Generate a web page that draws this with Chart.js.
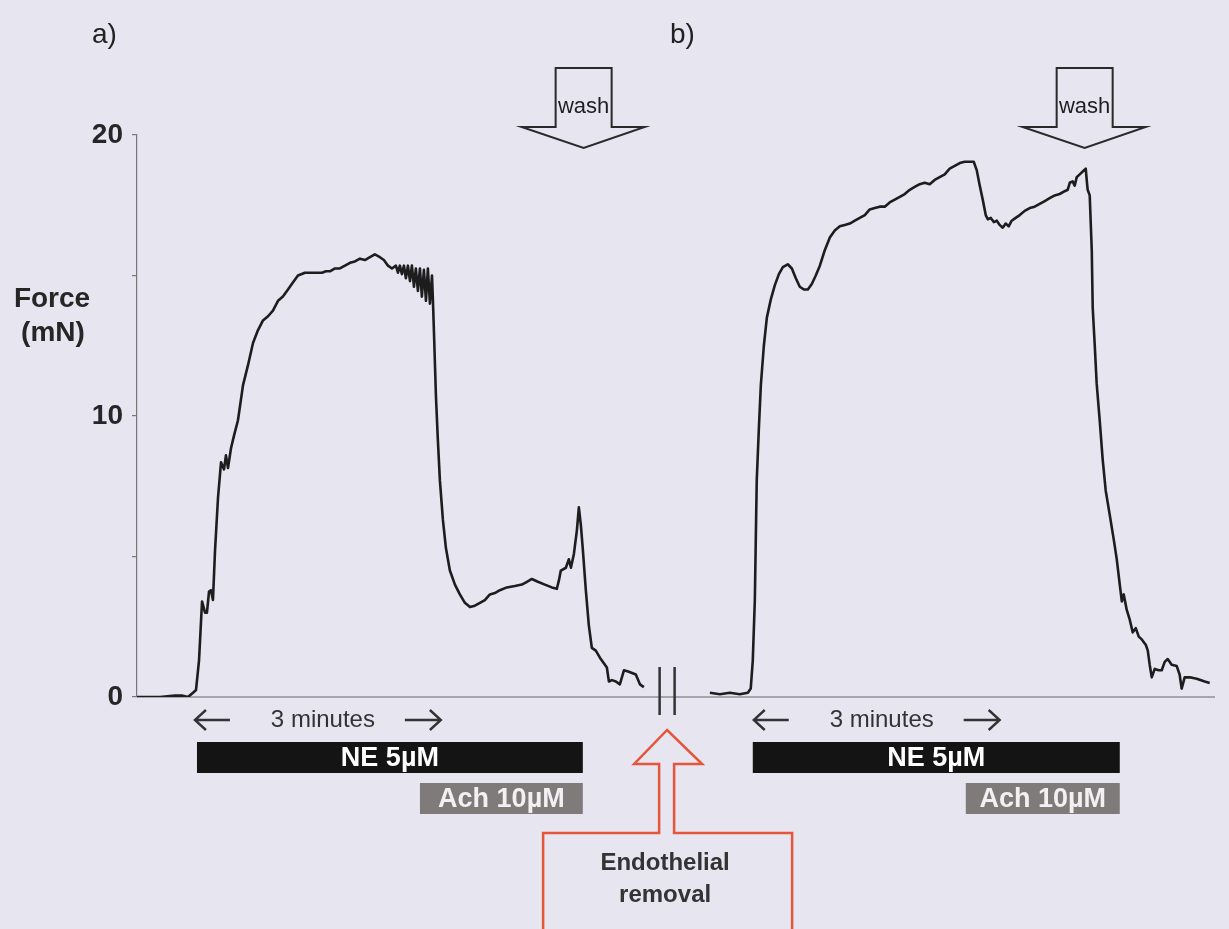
<!DOCTYPE html>
<html>
<head>
<meta charset="utf-8">
<script src="https://cdn.jsdelivr.net/npm/chart.js@4.4.0/dist/chart.umd.min.js"></script>
<style>
    html, body { margin: 0; padding: 0; background: #e6e5f0; }
    #wrap { width: 1229px; height: 929px; position: relative; }
</style>
</head>
<body>
<div id="wrap"><canvas id="trace"></canvas></div>
<script>
// Isometric force traces (mN) against recorder time (s)
// a) intact vessel, b) after endothelial removal
const timeA = [
    0, 16.8, 27.8, 32.9, 37.3, 41, 43.2, 45.4, 47.6, 49.8,
    51.2, 52.7, 54.1, 55.6, 57.1, 59.3, 61.5, 63.7, 65.1, 66.6,
    68.8, 71, 73.9, 77.6, 81.2, 84.9, 88.5, 92.2, 95.9, 99.5,
    103.2, 106.8, 110.5, 114.1, 117.8, 122.9, 128, 132.4, 135.4, 138.3,
    141.2, 144.9, 148.5, 152.2, 155.9, 159.5, 163.2, 166.8, 170.5, 174.1,
    177.8, 180.7, 183.7, 186.6,
    189.5, 191, 192.4, 193.9, 195.4, 196.8, 198.3, 199.8, 201.2, 202.7,
    204.1, 205.6, 207.1, 208.5, 210, 211.5, 212.9, 214.4, 215.9, 216.6,
    217.3, 218.8, 220.2, 221.7, 223.9, 226.1, 229, 232.7, 236.3, 240,
    243.7, 247.3, 251, 254.6, 258.3, 261.9, 265.6, 270.7, 276.6, 281.7,
    285.4, 289, 293.4, 298.5, 303.6, 307.3, 308.8, 310.2, 313.9, 316.1,
    317.6, 319.8, 322, 323.4, 324.9, 326.3, 328.5, 330.7, 332.9, 335.8,
    338.8, 341.7, 343.9, 345.4, 347.6, 350.5, 353.4, 356.4, 360, 365.1,
    368.1, 371
];
const forceA = [
    0, 0, 0.05, 0.05, 0, 0.15, 0.25, 1.3, 3.4, 3.0,
    3.0, 3.75, 3.8, 3.45, 5.2, 7.1, 8.35, 8.1, 8.6, 8.15,
    8.85, 9.3, 9.85, 11.1, 11.8, 12.6, 13.05, 13.4, 13.55, 13.75,
    14.1, 14.25, 14.5, 14.75, 15.0, 15.1, 15.1, 15.1, 15.1, 15.15,
    15.15, 15.25, 15.25, 15.35, 15.45, 15.5, 15.6, 15.55, 15.65, 15.75,
    15.65, 15.55, 15.35, 15.25,
    15.35, 15.1, 15.35, 15.05, 15.35, 14.9, 15.35, 14.8, 15.35, 14.6,
    15.25, 14.45, 15.25, 14.25, 15.2, 14.1, 15.25, 14.0, 15.0, 14.1,
    13.05, 10.7, 9.15, 7.7, 6.3, 5.3, 4.5, 4.0, 3.65, 3.35,
    3.2, 3.25, 3.35, 3.45, 3.65, 3.7, 3.8, 3.9, 3.95, 4.0,
    4.1, 4.2, 4.1, 4.0, 3.9, 3.85, 4.15, 4.5, 4.6, 4.9,
    4.6, 5.1, 5.95, 6.75, 6.1, 5.25, 3.8, 2.55, 1.75, 1.65,
    1.4, 1.2, 1.05, 0.55, 0.6, 0.55, 0.45, 0.95, 0.9, 0.8,
    0.45, 0.35
];
const timeB = [
    419.3, 426.6, 433.9, 441.2, 447.1, 449.2, 450.7, 452.2, 452.9, 453.6,
    455.1, 456.6, 458.8, 461, 463.9, 466.8, 469.8, 472.7, 476.3, 479.3,
    482.2, 485.1, 488.1, 491, 493.9, 496.8, 499.8, 503.4, 507.1, 510.7,
    514.4, 518, 521.7, 525.4, 529, 532.7, 536.3, 540, 543.6, 547.3,
    550.9, 554.6, 558.3, 561.9, 565.6, 569.2, 572.9, 576.5, 580.2, 583.8,
    587.5, 591.2, 594.8, 598.5, 602.2, 605.8, 609.5, 612.4, 614.6, 616.8,
    619, 621.2, 622.7, 624.9, 627.1, 629.3, 631.4, 633.6, 635.8, 638,
    640.2, 643.1, 646.1, 649.7, 653.4, 657, 660.7, 664.4, 668, 671.7,
    675.3, 679, 681.2, 682.7, 684.8, 686.3, 687.8, 690, 692.2, 694.4,
    695.1, 695.8, 697.3, 698.8, 699.5, 701, 702.4, 704.6, 706.8, 709,
    711.9, 714.9, 717.1, 719.3, 720.8, 722.2, 724.4, 726.6, 728.8, 731,
    733.2, 735.4, 738.4, 739.8, 741.2, 742.7, 744.9, 747.8, 750, 752.2,
    754.4, 757.3, 761, 763.1, 764.6, 766.8, 770.5, 775.6, 781.5, 785.1
];
const forceB = [
    0.15, 0.1, 0.15, 0.1, 0.15, 0.3, 1.3, 3.45, 5.6, 7.7,
    9.5, 11.1, 12.5, 13.5, 14.15, 14.65, 15.05, 15.3, 15.4, 15.25,
    14.9, 14.6, 14.5, 14.5, 14.7, 15.0, 15.35, 15.9, 16.35, 16.6,
    16.75, 16.8, 16.85, 16.95, 17.05, 17.15, 17.35, 17.4, 17.45, 17.45,
    17.6, 17.7, 17.8, 17.9, 18.05, 18.15, 18.25, 18.3, 18.25, 18.4,
    18.5, 18.6, 18.8, 18.9, 19.0, 19.05, 19.05, 19.05, 18.75, 18.2,
    17.7, 17.15, 17.0, 17.05, 16.9, 16.95, 16.8, 16.7, 16.85, 16.75,
    16.95, 17.05, 17.15, 17.3, 17.4, 17.45, 17.55, 17.65, 17.75, 17.85,
    17.9, 18.0, 18.05, 18.3, 18.35, 18.2, 18.5, 18.6, 18.7, 18.8,
    18.4, 18.05, 17.85, 15.9, 13.85, 12.5, 11.15, 9.85, 8.45, 7.35,
    6.5, 5.6, 4.9, 4.0, 3.4, 3.65, 3.1, 2.75, 2.3, 2.45,
    2.15, 2.05, 1.85, 1.65, 1.15, 0.7, 1.0, 0.95, 0.95, 1.25,
    1.35, 1.15, 1.1, 0.8, 0.3, 0.7, 0.7, 0.65, 0.55, 0.5
];

// y axis: ticks every 5 mN, labelled every 10
const forceMax = 20;
const forceStep = 5;
const timeMax = 789;

// drug applications and events (s), one entry per panel
const panelLabels = ['a)', 'b)'];
const neStart = [43.9, 450.7];
const neEnd = [326.3, 719.3];
const achStart = [207.1, 606.6];
const washAt = [326.9, 693.6];
const calStart = [42.4, 451.4];
const calLength = 180;      // 3 minutes
const breakAt = 388;

const FONT = '"Liberation Sans", Arial, Helvetica, sans-serif';

function arrowLine(ctx, x1, x2, y, tipLeft) {
    ctx.beginPath();
    ctx.moveTo(x1, y);
    ctx.lineTo(x2, y);
    const tip = tipLeft ? x1 : x2;
    const d = tipLeft ? 11 : -11;
    ctx.moveTo(tip + d, y - 10);
    ctx.lineTo(tip, y);
    ctx.lineTo(tip + d, y + 10);
    ctx.stroke();
}

function washArrow(ctx, cx) {
    ctx.beginPath();
    ctx.moveTo(cx - 28, 127);
    ctx.lineTo(cx - 28, 68);
    ctx.lineTo(cx + 28, 68);
    ctx.lineTo(cx + 28, 127);
    ctx.lineTo(cx + 61, 127);
    ctx.lineTo(cx, 148);
    ctx.lineTo(cx - 62, 127);
    ctx.closePath();
    ctx.fillStyle = '#e6e5f0';
    ctx.fill();
    ctx.strokeStyle = '#2a2a2a';
    ctx.lineWidth = 2;
    ctx.stroke();
    ctx.fillStyle = '#1e1e1e';
    ctx.font = `22px ${FONT}`;
    ctx.textAlign = 'center';
    ctx.textBaseline = 'alphabetic';
    ctx.fillText('wash', cx, 113);
}

const figurePlugin = {
    id: 'figure',
    beforeDraw(chart) {
        const ctx = chart.ctx;
        ctx.save();
        ctx.fillStyle = '#e6e5f0';
        ctx.fillRect(0, 0, chart.width, chart.height);
        ctx.restore();
    },
    beforeDatasetsDraw(chart) {
        const { ctx, chartArea, scales } = chart;
        const y0 = scales.y.getPixelForValue(0);
        ctx.save();
        ctx.strokeStyle = '#666';
        ctx.lineWidth = 1.2;
        ctx.beginPath();
        ctx.moveTo(chartArea.left, y0);
        ctx.lineTo(chartArea.right, y0);
        ctx.stroke();
        ctx.restore();
    },
    afterDraw(chart) {
        const { ctx, scales } = chart;
        const x = v => scales.x.getPixelForValue(v);
        ctx.save();

        // panel letters
        ctx.fillStyle = '#222';
        ctx.font = `28px ${FONT}`;
        ctx.textAlign = 'left';
        ctx.textBaseline = 'alphabetic';
        ctx.fillText(panelLabels[0], 92, 43);
        ctx.fillText(panelLabels[1], 670, 43);

        // y axis title
        ctx.fillStyle = '#262626';
        ctx.font = `bold 28px ${FONT}`;
        ctx.textAlign = 'center';
        ctx.fillText('Force', 52, 307);
        ctx.fillText('(mN)', 53, 341);

        for (let i = 0; i < 2; i++) {
            // 3 minute calibration
            const c0 = x(calStart[i]);
            const c1 = x(calStart[i] + calLength);
            ctx.strokeStyle = '#333';
            ctx.lineWidth = 2.4;
            arrowLine(ctx, c0, c0 + 35, 720, true);
            arrowLine(ctx, c1 - 36, c1, 720, false);
            ctx.fillStyle = '#333';
            ctx.font = `24px ${FONT}`;
            ctx.textAlign = 'center';
            ctx.textBaseline = 'middle';
            ctx.fillText('3 minutes', (c0 + c1) / 2 + 5, 720);

            // NE bar
            const n0 = x(neStart[i]);
            const n1 = x(neEnd[i]);
            ctx.fillStyle = '#141414';
            ctx.fillRect(n0, 742, n1 - n0, 31);
            ctx.fillStyle = '#ffffff';
            ctx.font = `bold 27px ${FONT}`;
            ctx.fillText('NE 5\u00b5M', (n0 + n1) / 2, 759);

            // Ach bar
            const a0 = x(achStart[i]);
            ctx.fillStyle = '#807b7b';
            ctx.fillRect(a0, 783, n1 - a0, 31);
            ctx.fillStyle = '#f2f0f2';
            ctx.fillText('Ach 10\u00b5M', (a0 + n1) / 2, 800);

            washArrow(ctx, x(washAt[i]));
        }

        // break in the recording
        const bx = x(breakAt);
        ctx.strokeStyle = '#333';
        ctx.lineWidth = 2.5;
        ctx.beginPath();
        ctx.moveTo(bx - 7.5, 667);
        ctx.lineTo(bx - 7.5, 715);
        ctx.moveTo(bx + 7.5, 667);
        ctx.lineTo(bx + 7.5, 715);
        ctx.stroke();

        // endothelial removal arrow + box (open at the page edge)
        ctx.strokeStyle = '#e5553a';
        ctx.lineWidth = 2.5;
        ctx.lineJoin = 'miter';
        ctx.beginPath();
        ctx.moveTo(bx - 124, 940);
        ctx.lineTo(bx - 124, 833);
        ctx.lineTo(bx - 8, 833);
        ctx.lineTo(bx - 8, 764);
        ctx.lineTo(bx - 33, 764);
        ctx.lineTo(bx, 730);
        ctx.lineTo(bx + 35, 764);
        ctx.lineTo(bx + 7, 764);
        ctx.lineTo(bx + 7, 833);
        ctx.lineTo(bx + 125, 833);
        ctx.lineTo(bx + 125, 940);
        ctx.stroke();
        ctx.fillStyle = '#333';
        ctx.font = `bold 24px ${FONT}`;
        ctx.textAlign = 'center';
        ctx.textBaseline = 'middle';
        ctx.fillText('Endothelial', bx - 2, 863);
        ctx.fillText('removal', bx - 2, 895);

        ctx.restore();
    }
};

const toPoints = (ts, fs) => ts.map((t, i) => ({ x: t, y: fs[i] }));

const traceStyle = {
    borderColor: '#1d1d1d',
    borderWidth: 2.6,
    borderJoinStyle: 'round',
    pointRadius: 0,
    tension: 0,
    fill: false
};

new Chart(document.getElementById('trace'), {
    type: 'line',
    data: {
        datasets: [
            { label: 'a', data: toPoints(timeA, forceA), ...traceStyle },
            { label: 'b', data: toPoints(timeB, forceB), ...traceStyle }
        ]
    },
    options: {
        responsive: true,
        maintainAspectRatio: false,
        animation: false,
        layout: { padding: { top: 135, right: 14, bottom: 232, left: 0 } },
        plugins: {
            legend: { display: false },
            tooltip: { enabled: false }
        },
        scales: {
            x: {
                type: 'linear',
                min: 0,
                max: timeMax,
                display: false
            },
            y: {
                min: 0,
                max: forceMax,
                afterFit: s => { s.width = 137; },
                ticks: {
                    stepSize: forceStep,
                    autoSkip: false,
                    padding: 9,
                    color: '#262626',
                    font: { family: FONT, size: 28, weight: 'bold' },
                    callback: v => (v % 10 === 0 ? String(v) : '')
                },
                grid: {
                    drawOnChartArea: false,
                    drawTicks: true,
                    tickLength: 5,
                    color: '#777',
                    lineWidth: 1.2
                },
                border: { display: true, color: '#777', width: 1.2 }
            }
        }
    },
    plugins: [figurePlugin]
});
</script>
</body>
</html>
